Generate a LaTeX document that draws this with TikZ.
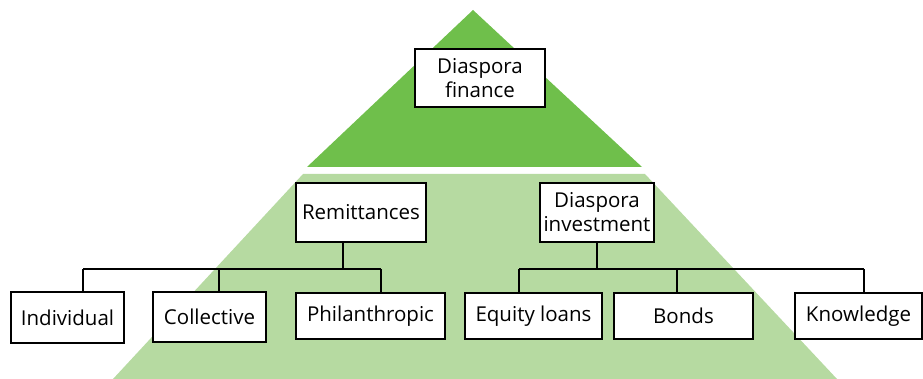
\documentclass[tikz,border=0pt]{standalone}
\usepackage{fontspec}
\setmainfont{Open Sans}
\usepackage{tikz}

\definecolor{topgreen}{HTML}{6FBF4B}
\definecolor{lowgreen}{HTML}{B6DAA1}

\begin{document}
\begin{tikzpicture}[x=1pt,y=-1pt,
        box/.style={draw=black,line width=1.2pt,fill=white,inner sep=0pt,align=center,
                    font=\fontsize{20.5}{24}\selectfont},
        link/.style={line width=1.1pt}]
    \useasboundingbox (0,0) rectangle (923,379);
    % the two layers of the pyramid
    \fill[topgreen] (473,10) -- (642,167) -- (307,167) -- cycle;
    \fill[lowgreen] (303,174) -- (645,174) -- (837,379) -- (113,379) -- cycle;

    % boxes
    \node[box,minimum width=130,minimum height=58] (finance) at (480,78) {Diaspora\\finance};
    \node[box,minimum width=130,minimum height=59] (remit) at (361,212.5) {Remittances};
    \node[box,minimum width=114,minimum height=59] (invest) at (597,212.5) {Diaspora\\investment};
    \node[box,minimum width=113,minimum height=51] (indiv) at (67.5,317.5) {Individual};
    \node[box,minimum width=113,minimum height=50] (coll) at (209.5,317) {Collective};
    \node[box,minimum width=149,minimum height=46] (phil) at (370.5,316) {Philanthropic};
    \node[box,minimum width=137,minimum height=46] (equity) at (533.5,316) {Equity loans};
    \node[box,minimum width=139,minimum height=46] (bonds) at (683.5,316) {Bonds};
    \node[box,minimum width=127,minimum height=46] (know) at (858.5,316) {Knowledge};

    % branch lines
    \coordinate (rbus) at (343,269);
    \coordinate (ibus) at (597,269);
    \draw[link] (rbus |- remit.south) -- (rbus);
    \draw[link] (ibus |- invest.south) -- (ibus);
    \draw[link] (83,269) -- (381,269);
    \draw[link] (519,269) -- (864,269);
    \foreach \x/\n in {83/indiv,219/coll,381/phil,519/equity,677/bonds,864/know}
        \draw[link] (\x,269) -- (\x,269 |- \n.north);
\end{tikzpicture}
\end{document}
